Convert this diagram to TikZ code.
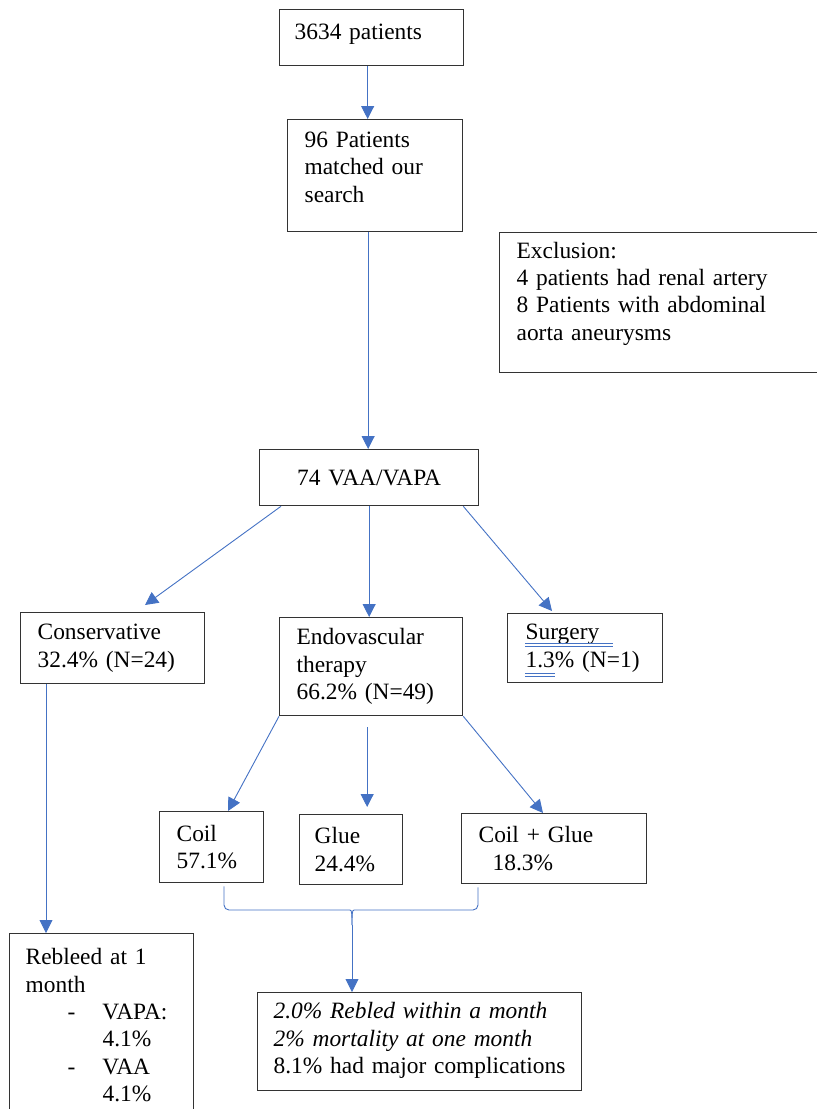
\documentclass[tikz,border=0pt]{standalone}
\usepackage{fontspec}
\setmainfont{Liberation Serif}
\usetikzlibrary{arrows.meta,calc}
\definecolor{flowblue}{HTML}{4472C4}
\definecolor{edgegray}{HTML}{333333}

\begin{document}
\begin{tikzpicture}[x=1pt, y=-1pt,
    font=\fontsize{23.4}{27.3}\selectfont,
    box/.style={draw=edgegray, line width=1.3pt, anchor=north west, align=left, inner ysep=0pt},
    link/.style={draw=flowblue, line width=0.9pt},
    arrow/.style={link, -{Triangle[length=13pt,width=13pt]}}]
    \useasboundingbox (0,0) rectangle (817,1109);
    \clip (0,0) rectangle (817,1109);

    \node[box, minimum width=184, minimum height=56, inner xsep=15, text width=154, text depth=12pt] (total) at (279,9) {3634 patients};
    \node[box, minimum width=175, minimum height=112, inner xsep=17, text width=141, text depth=72pt] (matched) at (287,119) {96 Patients\\ matched our\\ search};
    \node[box, minimum width=330, minimum height=140, inner xsep=17, text width=296, text depth=105pt] (excl) at (499,232) {Exclusion:\\ 4 patients had renal artery\\ 8 Patients with abdominal\\ aorta aneurysms};
    \node[box, minimum width=219, minimum height=56, inner xsep=17, text width=185, align=center] (vaa) at (259,449) {74~VAA/VAPA};

    \node[box, minimum width=184, minimum height=71, inner xsep=17, text width=150] (cons) at (20,612) {Conservative\\ 32.4\%~(N=24)};
    \node[box, minimum width=183, minimum height=98, inner xsep=17, text width=149] (endo) at (279,617) {Endovascular\\ therapy\\ 66.2\%~(N=49)};
    \node[box, minimum width=155, minimum height=69, inner xsep=18, text width=119] (surg) at (507,613) {Surgery\\ 1.3\%~(N=1)};

    \node[box, minimum width=104, minimum height=71, inner xsep=17, text width=70] (coil) at (159,811) {Coil\\ 57.1\%};
    \node[box, minimum width=103, minimum height=70, inner xsep=15, text width=73] (glue) at (299,814) {Glue\\ 24.4\%};
    \node[box, minimum width=185, minimum height=70, inner xsep=17, text width=151] (cg) at (461,813) {Coil~+~Glue\\ \hspace*{14pt}18.3\%};

    \node[box, minimum width=184, minimum height=183, inner xsep=16, text width=152] (rebleed) at (9,933) {Rebleed at 1\\ month\\ \hspace*{42pt}-\hspace*{27pt}VAPA:\\ \hspace*{77pt}4.1\%\\ \hspace*{42pt}-\hspace*{27pt}VAA\\ \hspace*{77pt}4.1\%};
    \node[box, minimum width=324, minimum height=98, inner xsep=16, text width=292, text depth=62pt] (result) at (257,992) {\mbox{\itshape 2.0\% Rebled within a month}\\ \mbox{\itshape 2\% mortality at one month}\\ \mbox{8.1\% had major complications}};

    % arrows
    \draw[arrow] ([xshift=-4]total.south) -- ([xshift=-4]total.south |- matched.north);
    \draw[arrow] ([xshift=-7]matched.south) -- ([xshift=-7]matched.south |- vaa.north);
    \draw[arrow] ([xshift=22]vaa.south west) -- ([xshift=125,yshift=7]cons.north west);
    \draw[arrow] (vaa.south) -- (vaa.south |- endo.north);
    \draw[arrow] ([xshift=-16]vaa.south east) -- ([xshift=45,yshift=2]surg.north west);
    \draw[arrow] ([xshift=26]cons.south west) -- ([xshift=26]cons.south west |- rebleed.north);
    \draw[arrow] (endo.south west) -- ([xshift=69]coil.north west);
    \draw[arrow] ($(glue.north |- endo.south)+(16,11)$) -- ([xshift=16,yshift=7]glue.north);
    \draw[arrow] (endo.south east) -- ([xshift=82]cg.north west);

    % bracket
    \coordinate (join) at (352,925);
    \draw[link, rounded corners=5] ($(coil.south west)+(65,3)$) |- (345,910) .. controls (352,910) and (352,915) .. (join);
    \draw[link, rounded corners=5] ($(cg.south west)+(17,3)$) |- (359,910) .. controls (352,910) and (352,915) .. (join);
    \draw[arrow] (join) -- (join |- result.north);

    % spell-check marks
    \draw[flowblue, line width=0.7] ([shift={(18,30)}]surg.north west) -- ++(88,0);
    \draw[flowblue, line width=0.7] ([shift={(18,33)}]surg.north west) -- ++(88,0);
    \draw[flowblue, line width=0.7] ([shift={(18,60)}]surg.north west) -- ++(30,0);
    \draw[flowblue, line width=0.7] ([shift={(18,63)}]surg.north west) -- ++(30,0);

  \end{tikzpicture}
\end{document}
